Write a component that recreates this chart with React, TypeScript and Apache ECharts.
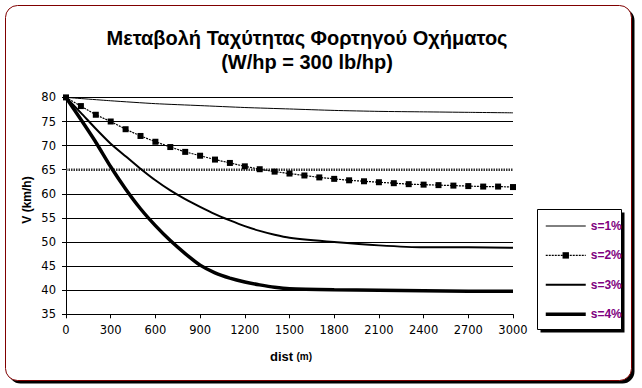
import { useEffect, useRef } from "react";
import * as echarts from "echarts";

const FONT = '"Liberation Sans", Arial, sans-serif';
const TICK_FONT = '"DejaVu Sans", sans-serif';

const titleLines = ["Μεταβολή Ταχύτητας Φορτηγού Οχήματος", "(W/hp = 300 lb/hp)"];
const yAxisTitle = "V (km/h)";
const xAxisTitleMain = "dist";
const xAxisTitleUnit = "(m)";
const seriesNames = ["s=1%", "s=2%", "s=3%", "s=4%"];
const seriesWidths = [1, 1.2, 2, 3.5];

// s=1%
const s1Dist = [0, 300, 600, 900, 1200, 1500, 1800, 2100, 2400, 2700, 3000];
const s1Speed = [80, 79.3, 78.7, 78.3, 77.9, 77.6, 77.3, 77.1, 77.0, 76.9, 76.8];

// s=2% (markers every 100 m)
const s2Dist = [0, 100, 200, 300, 400, 500, 600, 700, 800, 900, 1000, 1100, 1200, 1300, 1400, 1500, 1600, 1700, 1800, 1900, 2000, 2100, 2200, 2300, 2400, 2500, 2600, 2700, 2800, 2900, 3000];
const s2Speed = [80, 78.2, 76.4, 75.0, 73.4, 72.0, 70.8, 69.7, 68.7, 67.9, 67.1, 66.4, 65.7, 65.1, 64.6, 64.2, 63.8, 63.4, 63.1, 62.8, 62.6, 62.4, 62.2, 62.0, 61.9, 61.8, 61.7, 61.6, 61.5, 61.5, 61.4];

// s=3% and s=4%
const s34Dist = [0, 100, 200, 300, 400, 500, 600, 700, 800, 900, 1000, 1100, 1200, 1300, 1400, 1500, 1800, 2100, 2400, 2700, 3000];
const s3Speed = [80, 76.8, 73.5, 70.4, 67.8, 65.2, 62.8, 60.7, 58.9, 57.3, 55.8, 54.5, 53.3, 52.3, 51.5, 50.9, 50.0, 49.3, 48.9, 48.9, 48.8];
const s4Speed = [80, 75.4, 70.7, 65.6, 61.0, 56.9, 53.4, 50.3, 47.6, 45.2, 43.6, 42.5, 41.7, 41.1, 40.6, 40.3, 40.1, 40.0, 39.9, 39.8, 39.8];

// dotted reference line
const refDist = [0, 3000];
const refSpeed = [65, 65];

// axes
const xMin = 0, xMax = 3000, xStep = 300;
const yMin = 35, yMax = 80, yStep = 5;
const hiddenGridValue = 65;

const zip = (xs: number[], ys: number[]) => xs.map((x, i) => [x, ys[i]]);

export default function App() {
  const ref = useRef<HTMLDivElement>(null);
  useEffect(() => {
    if (!ref.current) return;
    const chart = echarts.init(ref.current, undefined, { renderer: "svg" });
    const yTickVals: number[] = [];
    for (let v = yMin; v <= yMax; v += yStep) yTickVals.push(v);
    const gridColors = yTickVals.map((v) => (v === hiddenGridValue ? "rgba(0,0,0,0)" : "#000"));

    const legendData = seriesNames.map((name, i) =>
      i === 1
        ? { name, lineStyle: { width: seriesWidths[i], type: [2, 1] } }
        : { name, itemStyle: { opacity: 0 }, lineStyle: { width: seriesWidths[i] } }
    );

    const option: any = {
      animation: false,
      backgroundColor: "#fff",
      textStyle: { fontFamily: FONT },
      grid: { left: 66, top: 97.4, width: 447, height: 216.9 },
      xAxis: {
        type: "value",
        min: xMin,
        max: xMax,
        interval: xStep,
        axisLine: { show: true, onZero: false, lineStyle: { color: "#000", width: 1 } },
        axisTick: { show: true, length: 4, lineStyle: { color: "#000" } },
        axisLabel: {
          color: "#000",
          fontSize: 11.5,
          fontFamily: TICK_FONT,
          margin: 10,
          showMinLabel: true,
          showMaxLabel: true,
          formatter: (v: number) => String(v),
        },
        splitLine: { show: false },
      },
      yAxis: {
        type: "value",
        min: yMin,
        max: yMax,
        interval: yStep,
        axisLine: { show: true, lineStyle: { color: "#000", width: 1 } },
        axisTick: { show: true, length: 4, lineStyle: { color: "#000" } },
        axisLabel: {
          color: "#000",
          fontSize: 11.5,
          fontFamily: TICK_FONT,
          margin: 10,
          showMinLabel: true,
          showMaxLabel: true,
          formatter: (v: number) => String(v),
        },
        splitLine: { show: true, lineStyle: { color: gridColors, width: 1 } },
      },
      legend: {
        orient: "vertical",
        left: 544,
        top: 220,
        itemWidth: 40,
        itemHeight: 8,
        itemGap: 17.4,
        padding: 0,
        data: legendData,
        textStyle: { color: "#800080", fontWeight: "bold", fontSize: 12, fontFamily: FONT },
      },
      graphic: [
        {
          type: "rect",
          z: -10,
          shape: { x: 8.5, y: 8.5, width: 626, height: 375, r: 12 },
          style: { fill: "#000" },
        },
        {
          type: "rect",
          z: -9,
          shape: { x: 5.5, y: 5.5, width: 626, height: 375, r: 12 },
          style: { fill: "#fff", stroke: "#800000", lineWidth: 1 },
        },
        {
          type: "rect",
          z: -8,
          shape: { x: 540.5, y: 212.5, width: 84, height: 120 },
          style: { fill: "#000" },
        },
        {
          type: "rect",
          z: -7,
          shape: { x: 537.5, y: 209.5, width: 84, height: 120 },
          style: { fill: "#fff", stroke: "#000", lineWidth: 1 },
        },
        {
          type: "text",
          x: 307,
          y: 38,
          style: {
            text: titleLines[0],
            fontSize: 20,
            fontWeight: "bold",
            fontFamily: FONT,
            fill: "#000",
            textAlign: "center",
            textVerticalAlign: "middle",
            align: "center",
            verticalAlign: "middle",
          },
        },
        {
          type: "text",
          x: 307,
          y: 62,
          style: {
            text: titleLines[1],
            fontSize: 20,
            fontWeight: "bold",
            fontFamily: FONT,
            fill: "#000",
            textAlign: "center",
            textVerticalAlign: "middle",
            align: "center",
            verticalAlign: "middle",
          },
        },
        {
          type: "text",
          x: 27,
          y: 200,
          rotation: Math.PI / 2,
          style: {
            text: yAxisTitle,
            fontSize: 12,
            fontWeight: "bold",
            fontFamily: FONT,
            fill: "#000",
            textAlign: "center",
            textVerticalAlign: "middle",
            align: "center",
            verticalAlign: "middle",
          },
        },
        {
          type: "text",
          x: 291,
          y: 356,
          style: {
            text: "{a|" + xAxisTitleMain + "} {b|" + xAxisTitleUnit + "}",
            rich: {
              a: { fontSize: 13, fontWeight: "bold", fontFamily: FONT, fill: "#000", color: "#000" },
              b: { fontSize: 10, fontWeight: "bold", fontFamily: FONT, fill: "#000", color: "#000" },
            },
            fill: "#000",
            textAlign: "center",
            textVerticalAlign: "middle",
            align: "center",
            verticalAlign: "middle",
          },
        },
      ],
      series: [
        {
          name: "ref65",
          type: "line",
          data: zip(refDist, refSpeed),
          symbol: "none",
          silent: true,
          lineStyle: { color: "#333", width: 2.5, type: [1.5, 1] },
          z: 1,
        },
        {
          name: seriesNames[0],
          type: "line",
          data: zip(s1Dist, s1Speed),
          symbol: "none",
          smooth: 0.2,
          lineStyle: { color: "#000", width: seriesWidths[0] },
          itemStyle: { color: "#000" },
        },
        {
          name: seriesNames[1],
          type: "line",
          data: zip(s2Dist, s2Speed),
          symbol: "rect",
          symbolSize: 6,
          showSymbol: true,
          lineStyle: { color: "#000", width: seriesWidths[1], type: [2, 1] },
          itemStyle: { color: "#000" },
        },
        {
          name: seriesNames[2],
          type: "line",
          data: zip(s34Dist, s3Speed),
          symbol: "none",
          smooth: 0.2,
          lineStyle: { color: "#000", width: seriesWidths[2] },
          itemStyle: { color: "#000" },
        },
        {
          name: seriesNames[3],
          type: "line",
          data: zip(s34Dist, s4Speed),
          symbol: "none",
          smooth: 0.2,
          lineStyle: { color: "#000", width: seriesWidths[3] },
          itemStyle: { color: "#000" },
        },
      ],
    };
    chart.setOption(option);
    return () => chart.dispose();
  }, []);
  return (
    <div
      ref={ref}
      style={{ position: "fixed", left: 0, top: 0, width: 642, height: 388, background: "#fff" }}
    />
  );
}
